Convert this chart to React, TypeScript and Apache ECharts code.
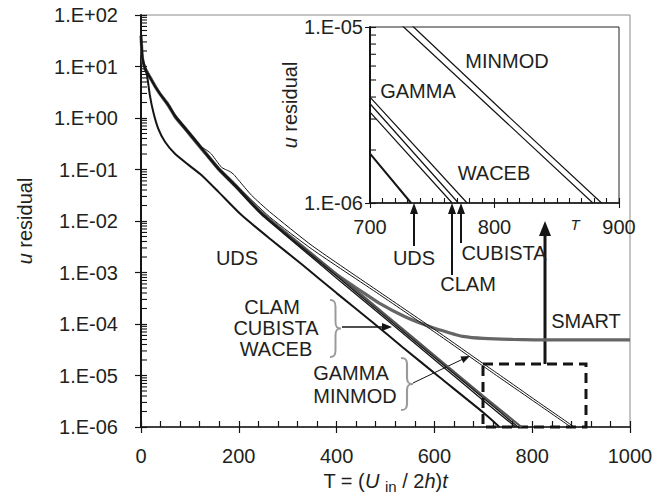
import React, { useEffect, useRef } from "react";
import * as echarts from "echarts";

const FONT = "'Liberation Sans', Arial, Helvetica, sans-serif";
const INK = "#231f20";
const LINE = "#151515";
const GREY = "#666666";

// ---- data (T, log10 of u residual) ----
const T_UDS = [0, 3, 6, 12, 18, 25, 35, 49, 69, 97, 124, 158, 205, 263, 330, 400, 474, 535, 610, 700, 733];
const LOG_UDS = [1.55, 1.15, 1.05, 0.85, 0.45, 0.12, -0.2, -0.46, -0.69, -0.91, -1.11, -1.43, -1.88, -2.34, -2.85, -3.4, -3.97, -4.45, -5.03, -5.72, -6.0];

const T_CLAM = [0, 3, 8, 18, 29, 40, 56, 70, 90, 124, 158, 192, 246, 300, 400, 500, 610, 700, 766];
const LOG_CLAM = [1.6, 1.15, 0.95, 0.78, 0.6, 0.44, 0.23, 0.01, -0.22, -0.61, -1.0, -1.33, -1.87, -2.31, -3.11, -3.9, -4.77, -5.484, -6.0];

const T_CUBISTA = [0, 3, 8, 18, 29, 40, 56, 70, 90, 124, 158, 192, 246, 300, 400, 500, 610, 700, 771];
const LOG_CUBISTA = [1.6, 1.17, 0.97, 0.8, 0.61, 0.45, 0.25, 0.03, -0.2, -0.59, -0.98, -1.3, -1.84, -2.28, -3.07, -3.86, -4.73, -5.436, -6.0];

const T_WACEB = [0, 3, 8, 18, 29, 40, 56, 70, 90, 124, 158, 192, 246, 300, 400, 500, 610, 700, 778];
const LOG_WACEB = [1.6, 1.18, 0.99, 0.82, 0.63, 0.47, 0.27, 0.05, -0.18, -0.57, -0.96, -1.28, -1.82, -2.25, -3.03, -3.82, -4.69, -5.398, -6.0];

const T_GAMMA = [0, 3, 8, 18, 29, 40, 56, 70, 90, 124, 158, 192, 263, 350, 488, 610, 700, 727, 800, 879];
const LOG_GAMMA = [1.6, 1.16, 0.96, 0.79, 0.62, 0.46, 0.26, 0.05, -0.18, -0.57, -0.95, -1.28, -1.92, -2.55, -3.43, -4.22, -4.82, -5.0, -5.48, -6.0];

const T_MINMOD = [0, 3, 8, 18, 29, 40, 56, 70, 90, 110, 124, 135, 144, 155, 165, 175, 182, 190, 199, 226, 263, 350, 488, 610, 700, 735, 810, 886];
const LOG_MINMOD = [1.6, 1.17, 0.98, 0.81, 0.63, 0.47, 0.27, 0.06, -0.17, -0.4, -0.56, -0.63, -0.7, -0.84, -0.96, -1.01, -1.04, -1.1, -1.2, -1.5, -1.82, -2.48, -3.38, -4.17, -4.77, -5.0, -5.5, -6.0];

const T_SMART = [0, 3, 8, 18, 29, 40, 56, 70, 90, 124, 158, 192, 246, 300, 400, 450, 488, 540, 590, 630, 658, 700, 760, 850, 1000];
const LOG_SMART = [1.6, 1.16, 0.96, 0.79, 0.61, 0.45, 0.24, 0.02, -0.21, -0.6, -0.99, -1.31, -1.85, -2.27, -3.04, -3.36, -3.6, -3.86, -4.05, -4.17, -4.24, -4.28, -4.3, -4.31, -4.31];

// axis ticks
const MAIN_X_TICKS = [0, 1000, 200];
const INSET_X_TICKS = [700, 900, 100];
const MAIN_Y_RANGE = [1e-6, 100];
const INSET_Y_RANGE = [1e-6, 1e-5];
const MINOR_MULT = [2, 3, 4, 5, 6, 7, 8, 9];
const MAIN_DECADES = [-6, -5, -4, -3, -2, -1, 0, 1];
const INSET_DECADES = [-6];

const pairs = (t: number[], lg: number[]) => t.map((x, i) => [x, Math.pow(10, lg[i])]);

const BRACE_D =
  "M0,0 C8,0 10,4 10,12 L10,38 C10,46 12,50 20,50 C12,50 10,54 10,62 L10,88 C10,96 8,100 0,100";
let braceRegistered = false;
function ensureBrace() {
  if (!braceRegistered) {
    echarts.graphic.registerShape("brace", echarts.graphic.extendPath(BRACE_D, {}) as any);
    braceRegistered = true;
  }
}

const sciLabel = (v: number) => {
  const e = Math.round(Math.log10(v));
  const a = Math.abs(e);
  return `1.E${e < 0 ? "-" : "+"}${a < 10 ? "0" + a : a}`;
};
const plainLabel = (v: number) => String(v);

const minorValues = (decades: number[]) => {
  const out: number[] = [];
  decades.forEach((d) => MINOR_MULT.forEach((m) => out.push(m * Math.pow(10, d))));
  return out;
};

const minorTickSeries = (xi: number, yi: number, x0: number, values: number[]) => ({
  type: "custom",
  xAxisIndex: xi,
  yAxisIndex: yi,
  silent: true,
  clip: false,
  z: 5,
  data: values.map((v) => [x0, v]),
  renderItem: (_p: any, api: any) => {
    const p = api.coord([api.value(0), api.value(1)]);
    return {
      type: "line",
      shape: { x1: p[0], y1: p[1], x2: p[0] + 6, y2: p[1] },
      style: { stroke: LINE, lineWidth: 1.1 },
    };
  },
});

const lineSeries = (name: string, data: number[][], xi: number, yi: number, color: string, width: number, smooth: number | boolean) => ({
  type: "line",
  name,
  data,
  xAxisIndex: xi,
  yAxisIndex: yi,
  showSymbol: false,
  symbol: "none",
  smooth,
  clip: true,
  silent: true,
  z: 3,
  lineStyle: { color, width },
});

const txt = (text: string, x: number, y: number, size = 20, extra: any = {}) => ({
  type: "text",
  x,
  y,
  silent: true,
  style: { text, fontSize: size, fontFamily: FONT, fill: INK, align: "center", verticalAlign: "middle", ...extra },
});

const seg = (x1: number, y1: number, x2: number, y2: number, w = 1.5) => ({
  type: "line",
  silent: true,
  shape: { x1, y1, x2, y2 },
  style: { stroke: LINE, lineWidth: w },
});

const tri = (pts: number[][]) => ({
  type: "polygon",
  silent: true,
  shape: { points: pts },
  style: { fill: LINE, stroke: "none" },
});

const nameRich = {
  n: { fontSize: 20, fontFamily: FONT, color: INK },
  i: { fontSize: 20, fontFamily: FONT, color: INK, fontStyle: "italic" },
  s: { fontSize: 15, fontFamily: FONT, color: INK, padding: [12, 0, 0, 0] },
};

export default function App() {
  const ref = useRef<HTMLDivElement>(null);
  useEffect(() => {
    document.body.style.margin = "0";
    ensureBrace();
    const chart = echarts.init(ref.current!, null, { renderer: "svg" });

    const axisLineStyle = { color: LINE, width: 1.5 };
    const labelStyle = { fontSize: 20, fontFamily: FONT, color: INK };

    const xMain = (extra: any) => ({
      type: "value",
      gridIndex: 0,
      min: MAIN_X_TICKS[0],
      max: MAIN_X_TICKS[1],
      interval: MAIN_X_TICKS[2],
      position: "bottom",
      splitLine: { show: false },
      ...extra,
    });
    const xInset = (extra: any) => ({
      type: "value",
      gridIndex: 1,
      min: INSET_X_TICKS[0],
      max: INSET_X_TICKS[1],
      interval: INSET_X_TICKS[2],
      position: "bottom",
      splitLine: { show: false },
      ...extra,
    });
    const yMain = (extra: any) => ({
      type: "log",
      logBase: 10,
      gridIndex: 0,
      min: MAIN_Y_RANGE[0],
      max: MAIN_Y_RANGE[1],
      splitNumber: 8,
      position: "left",
      splitLine: { show: false },
      ...extra,
    });
    const yInset = (extra: any) => ({
      type: "log",
      logBase: 10,
      gridIndex: 1,
      min: INSET_Y_RANGE[0],
      max: INSET_Y_RANGE[1],
      splitNumber: 1,
      position: "left",
      splitLine: { show: false },
      ...extra,
    });

    const noDraw = { axisLine: { show: false }, axisLabel: { show: false } };

    const option: any = {
      animation: false,
      backgroundColor: "#ffffff",
      textStyle: { fontFamily: FONT },
      grid: [
        { left: 141, top: 15, width: 489, height: 412, show: true, borderColor: "#8a8a8a", borderWidth: 1 },
        { left: 370, top: 27, width: 249, height: 176, show: true, borderColor: "#222", borderWidth: 1 },
      ],
      xAxis: [
        xMain({
          axisLine: { lineStyle: axisLineStyle },
          axisTick: { inside: true, length: 6, lineStyle: { color: LINE, width: 1.2 } },
          minorTick: { show: true, splitNumber: 5, length: 6, lineStyle: { color: LINE, width: 1.2 } },
          axisLabel: { ...labelStyle, margin: 19, formatter: plainLabel },
          name: "{n|T = (}{i|U }{s|in}{n| / 2}{i|h}{n|)}{i|t}",
          nameLocation: "middle",
          nameGap: 36,
          nameTextStyle: { fontFamily: FONT, fontSize: 20, color: INK, rich: nameRich },
        }),
        xMain({ ...noDraw, axisTick: { inside: false, length: 6, lineStyle: { color: LINE, width: 1.2 } } }),
        xInset({
          axisLine: { lineStyle: axisLineStyle },
          axisTick: { inside: true, length: 5, lineStyle: { color: LINE, width: 1.1 } },
          minorTick: { show: true, splitNumber: 10, length: 5, lineStyle: { color: LINE, width: 1.1 } },
          axisLabel: { ...labelStyle, margin: 14, formatter: plainLabel },
        }),
        xInset({ ...noDraw, axisTick: { inside: false, length: 5, lineStyle: { color: LINE, width: 1.1 } } }),
      ],
      yAxis: [
        yMain({
          axisLine: { lineStyle: { color: LINE, width: 2 } },
          axisTick: { inside: true, length: 6, lineStyle: { color: LINE, width: 1.2 } },
          axisLabel: { ...labelStyle, margin: 23, formatter: sciLabel },
          name: "{i|u}{n| residual}",
          nameLocation: "middle",
          nameRotate: 90,
          nameGap: 106,
          nameTextStyle: { fontFamily: FONT, fontSize: 20, color: INK, rich: nameRich },
        }),
        yMain({ ...noDraw, axisTick: { inside: false, length: 6, lineStyle: { color: LINE, width: 1.2 } } }),
        yInset({
          axisLine: { lineStyle: { color: LINE, width: 2 } },
          axisTick: { inside: true, length: 6, lineStyle: { color: LINE, width: 1.1 } },
          axisLabel: { ...labelStyle, margin: 7, formatter: sciLabel },
          name: "{i|u}{n| residual}",
          nameLocation: "middle",
          nameRotate: 90,
          nameGap: 33,
          nameTextStyle: { fontFamily: FONT, fontSize: 20, color: INK, rich: nameRich, padding: [0, 0, 0, 20] },
        }),
        yInset({ ...noDraw, axisTick: { inside: false, length: 5, lineStyle: { color: LINE, width: 1.1 } } }),
      ],
      series: [
        lineSeries("SMART", pairs(T_SMART, LOG_SMART), 0, 0, GREY, 3.2, 0.2),
        lineSeries("WACEB", pairs(T_WACEB, LOG_WACEB), 0, 0, "#555555", 2.2, 0.2),
        lineSeries("CUBISTA", pairs(T_CUBISTA, LOG_CUBISTA), 0, 0, LINE, 1.3, 0.2),
        lineSeries("CLAM", pairs(T_CLAM, LOG_CLAM), 0, 0, LINE, 1.3, 0.2),
        lineSeries("GAMMA", pairs(T_GAMMA, LOG_GAMMA), 0, 0, LINE, 1, 0.2),
        lineSeries("MINMOD", pairs(T_MINMOD, LOG_MINMOD), 0, 0, LINE, 1, 0.2),
        lineSeries("UDS", pairs(T_UDS, LOG_UDS), 0, 0, LINE, 2, 0.2),
        lineSeries("UDS inset", pairs(T_UDS, LOG_UDS), 2, 2, LINE, 2, false),
        lineSeries("CLAM inset", pairs(T_CLAM, LOG_CLAM), 2, 2, LINE, 1.2, false),
        lineSeries("CUBISTA inset", pairs(T_CUBISTA, LOG_CUBISTA), 2, 2, LINE, 1.2, false),
        lineSeries("WACEB inset", pairs(T_WACEB, LOG_WACEB), 2, 2, LINE, 1.2, false),
        lineSeries("GAMMA inset", pairs(T_GAMMA, LOG_GAMMA), 2, 2, LINE, 1.2, false),
        lineSeries("MINMOD inset", pairs(T_MINMOD, LOG_MINMOD), 2, 2, LINE, 1.2, false),
        minorTickSeries(0, 0, MAIN_X_TICKS[0], minorValues(MAIN_DECADES)),
        minorTickSeries(2, 2, INSET_X_TICKS[0], minorValues(INSET_DECADES)),
      ],
      graphic: [
        txt("UDS", 237, 258),
        txt("CLAM", 272, 307),
        txt("CUBISTA", 276, 328),
        txt("WACEB", 276, 349),
        { type: "brace", x: 330, y: 300, scaleX: 0.55, scaleY: 0.57, silent: true, style: { stroke: "#9a9a9a", fill: "none", lineWidth: 2, strokeNoScale: true } },
        seg(342, 327, 384, 327, 1.5),
        tri([[392, 327], [382, 323], [382, 331]]),
        txt("GAMMA", 351, 373),
        txt("MINMOD", 355, 396),
        { type: "brace", x: 401, y: 358, scaleX: 0.6, scaleY: 0.52, silent: true, style: { stroke: "#9a9a9a", fill: "none", lineWidth: 2, strokeNoScale: true } },
        seg(413, 383, 463, 359, 1),
        tri([[470, 356], [460.4, 356.5], [463.3, 362.9]]),
        txt("SMART", 586, 321),
        { type: "rect", silent: true, shape: { x: 483, y: 364, width: 103, height: 63 }, style: { fill: "none", stroke: LINE, lineWidth: 3, lineDash: [10, 6] } },
        seg(545, 364, 545, 234, 3),
        tri([[545, 221], [539, 236], [551, 236]]),
        txt("MINMOD", 507, 61),
        txt("GAMMA", 418, 91),
        txt("WACEB", 494, 173),
        seg(414, 212, 414, 246, 2),
        tri([[414, 203], [410, 214], [418, 214]]),
        txt("UDS", 414, 258),
        seg(452, 212, 452, 275, 2),
        tri([[452, 203], [448, 214], [456, 214]]),
        txt("CLAM", 468, 284),
        seg(461, 212, 461, 243, 2),
        tri([[461, 203], [457, 214], [465, 214]]),
        txt("CUBISTA", 504, 253),
        txt("T", 575, 224, 15, { fontStyle: "italic" }),
      ],
    };
    chart.setOption(option);
    return () => chart.dispose();
  }, []);
  return <div ref={ref} style={{ width: 658, height: 504 }} />;
}
